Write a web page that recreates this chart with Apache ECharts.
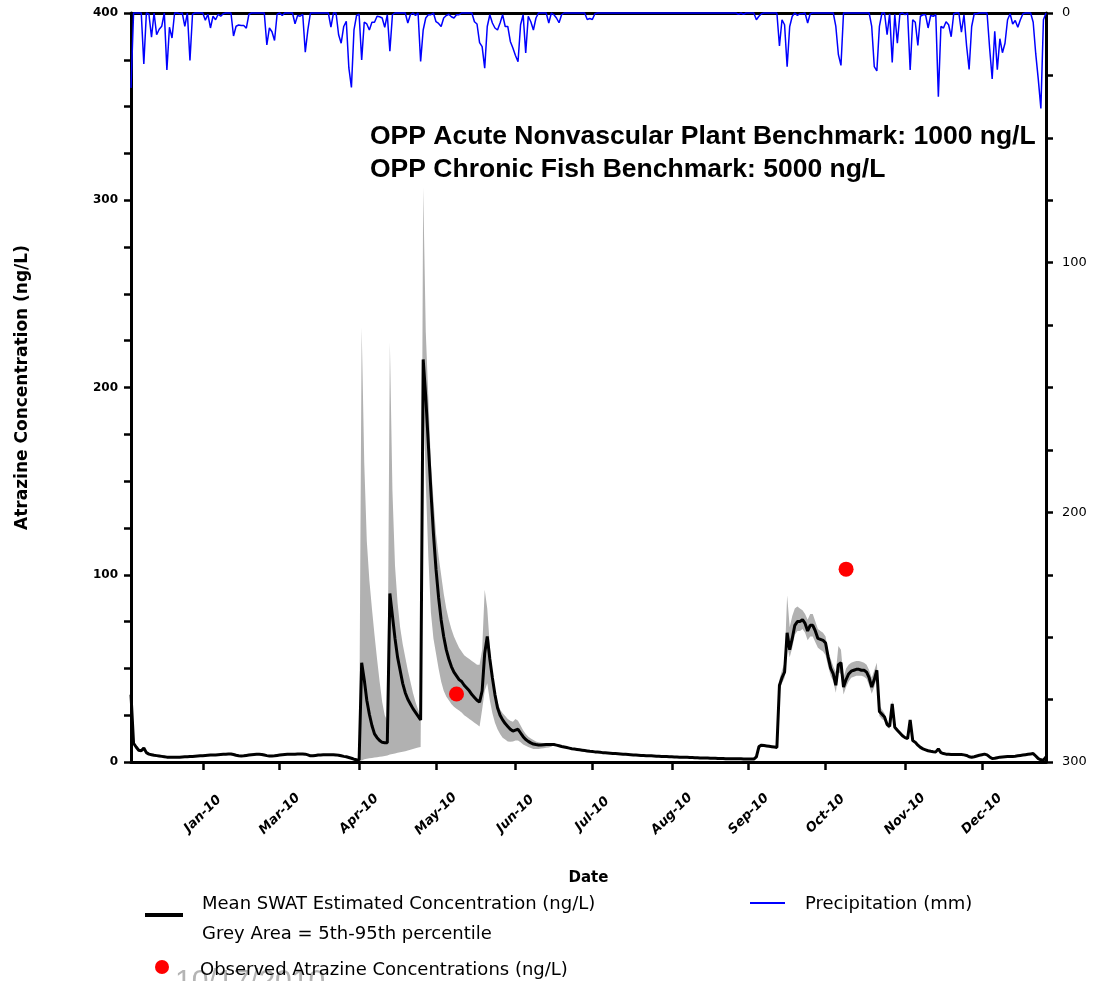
<!DOCTYPE html>
<html>
<head>
<meta charset="utf-8">
<title>Atrazine concentration and precipitation, 2010</title>
<script src="https://cdn.jsdelivr.net/npm/echarts@6/dist/echarts.min.js"></script>
<style>
  html, body { margin: 0; padding: 0; background: #fff; }
  #chart { width: 1100px; height: 981px; }
</style>
</head>
<body>
<div id="chart"></div>
<script>
// x values are days counted from the left edge of the plot
const tickDays = [28, 58, 89, 119, 150, 180, 211, 241, 271, 302, 332];
const tickLabels = ["Jan-10", "Mar-10", "Apr-10", "May-10", "Jun-10", "Jul-10",
  "Aug-10", "Sep-10", "Oct-10", "Nov-10", "Dec-10"];

// mean SWAT concentration (ng/L), one value per day
const meanConc = [
  36, 10, 8, 6.3, 6, 7.5, 5, 4.2, 3.9, 3.6,
  3.4, 3.2, 3, 2.8, 2.6, 2.5, 2.5, 2.5, 2.6, 2.6,
  2.7, 2.8, 2.8, 2.9, 3.0, 3.1, 3.2, 3.3, 3.4, 3.5,
  3.6, 3.7, 3.8, 3.8, 3.9, 4.0, 4.1, 4.2, 4.3, 4.3,
  4.0, 3.6, 3.3, 3.2, 3.3, 3.5, 3.7, 3.9, 4.0, 4.1,
  4.1, 4.0, 3.7, 3.4, 3.2, 3.2, 3.3, 3.5, 3.7, 3.9,
  4.0, 4.1, 4.1, 4.2, 4.2, 4.3, 4.3, 4.3, 4.2, 3.8,
  3.3, 3.3, 3.5, 3.7, 3.8, 3.9, 3.9, 3.9, 3.9, 3.9,
  3.8, 3.6, 3.3, 3.0, 2.8, 2.4, 2.0, 1.5, 1.2, 1.0,
  53, 44, 33, 25.5, 19.5, 15, 13, 11.5, 10.5, 10.3,
  10.3, 90, 78, 66, 56, 49, 42, 37, 33.5, 31,
  28.5, 26.5, 24.5, 22.5, 215, 195, 170, 145, 122, 103,
  88, 76, 67, 60, 55, 51, 48, 46, 44, 43,
  41, 39.5, 38, 36, 34.5, 33, 32, 38, 58, 67,
  55, 45, 36, 29, 25, 22.5, 20.5, 19, 17.5, 16.5,
  17, 17.5, 15.5, 13.5, 12, 11, 10.2, 9.6, 9.3, 9.1,
  9.1, 9.2, 9.3, 9.4, 9.4, 9.3, 9.0, 8.7, 8.3, 8.0,
  7.7, 7.4, 7.1, 6.9, 6.7, 6.5, 6.3, 6.1, 5.9, 5.7,
  5.6, 5.4, 5.3, 5.2, 5.0, 4.9, 4.8, 4.7, 4.6, 4.5,
  4.4, 4.3, 4.2, 4.1, 4.0, 3.9, 3.8, 3.7, 3.6, 3.5,
  3.5, 3.4, 3.3, 3.3, 3.2, 3.1, 3.1, 3.0, 3.0, 2.9,
  2.8, 2.8, 2.7, 2.7, 2.6, 2.6, 2.5, 2.5, 2.4, 2.4,
  2.3, 2.3, 2.2, 2.1, 2.1, 2.1, 2.0, 2.0, 2.0, 1.9,
  1.9, 1.9, 1.8, 1.8, 1.8, 1.7, 1.7, 1.7, 1.7, 1.6,
  1.6, 1.6, 1.6, 1.6, 2.8, 8.2, 9.0, 8.8, 8.6, 8.4,
  8.2, 8.0, 7.8, 41, 45, 48, 69, 60, 66, 73,
  75, 75, 76, 74, 70, 73, 73, 70, 66, 65.5,
  65, 63.5, 56, 50, 47, 41, 52, 53, 40, 44,
  47, 48.5, 49, 49.5, 49.5, 49, 49, 48, 45, 40,
  44, 49, 27, 25.5, 24, 20, 19, 31, 18.5, 17,
  15.5, 14, 13, 12.5, 22.5, 11.5, 10.5, 9, 7.8, 7,
  6.5, 6, 5.7, 5.5, 5.4, 7, 5, 4.5, 4.2, 4.1,
  4.0, 4.0, 4.0, 4.0, 4.0, 3.8, 3.5, 2.8, 2.5, 2.8,
  3.2, 3.6, 3.9, 4.2, 3.8, 2.7, 1.9, 2.0, 2.3, 2.6,
  2.7, 2.8, 2.9, 3.0, 3.0, 3.1, 3.3, 3.5, 3.7, 3.9,
  4.1, 4.3, 4.5, 3.2, 1.8, 1.2, 1.0, 2.7
];

// 5th-95th percentile band, spring window
const bandStart1 = 89;
const bandLow1 = [
  1.0,
  0.8, 1.5, 1.8, 2, 2.2, 2.4, 2.6, 2.8, 3, 3.2,
  3.5, 4, 4.3, 4.6, 4.9, 5.2, 5.5, 5.8, 6.2, 6.6,
  7, 7.4, 7.8, 8, 200, 150, 110, 80, 66, 58,
  50, 43, 38, 35, 33, 31, 29.5, 28.5, 27.5, 26.5,
  25, 24, 23, 22, 21, 20, 19, 28, 38, 42,
  33, 26, 21, 17.5, 15, 13, 12, 11, 10.8, 11,
  11.5, 11.5, 10.5, 9.3, 8.7, 8, 7.5, 7, 7, 7,
  7.2, 7.4, 7.6, 7.8, 8.1, 9.4
];
const bandHigh1 = [
  1.0,
  232, 160, 118, 97, 82, 68, 55, 43, 32, 25,
  22, 224, 145, 105, 85, 72, 63, 56, 49, 43,
  37, 32, 28, 25, 307, 230, 195, 160, 140, 122,
  110, 100, 90, 82, 76, 71, 67, 64, 61, 59,
  57, 56, 55, 54, 53, 52, 52, 60, 92, 82,
  62, 46, 38, 32, 28, 26, 24.5, 23, 22, 21.5,
  23, 22, 19.5, 17, 15, 13.5, 12.5, 11.7, 11, 10.5,
  10.3, 10.2, 10.1, 10.1, 10, 9.4
];

// 5th-95th percentile band, autumn window
const bandStart2 = 244;
const bandLow2 = [
  2.8, 7.8, 8.5, 8.3, 8.1, 7.9, 7.7, 7.5, 7.3, 38, 42, 45, 62, 56, 61, 68,
  70, 70, 71, 69, 65, 67, 67, 64, 61, 60,
  59, 57, 51, 46, 43, 37, 48, 47, 36, 40,
  43, 45, 45.5, 46, 46, 46, 45.5, 44.5, 41, 36.5,
  40, 45, 24.5, 23, 22, 18.5, 17.8, 29, 17.3, 16,
  15.5
];
const bandHigh2 = [
  2.8, 8.6, 9.5, 9.3, 9.1, 8.9, 8.7, 8.5, 8.3, 44, 49, 53, 89, 72, 78, 82,
  83, 82, 81, 79, 76, 79, 79, 75, 71, 70,
  69, 67, 59, 55, 51, 48, 62, 60, 45, 50,
  52, 53, 53.5, 54, 54, 53.5, 53, 52, 49, 45,
  49, 53, 30, 28, 26, 21.5, 20.5, 33, 19.5, 18,
  15.5
];

// observed atrazine samples
const observedDays = [127, 279];
const observedConc = [36.3, 103];

// daily precipitation (mm), plotted on the inverted right axis
const precip = [
  30, 0, 0, 0, 0, 20.4, 0, 0.5, 9.7, 0,
  8.7, 6.5, 5.3, 0, 22.8, 5.7, 10, 0, 0, 0.3,
  0, 5.4, 0, 19, 0.5, 0, 0, 0, 0, 2.9,
  0.5, 6, 1.3, 2.7, 0.5, 1.3, 0.3, 0, 0, 0,
  9.2, 5.3, 4.8, 5, 5, 6.1, 0.5, 0, 0, 0,
  0, 0, 0, 12.8, 6, 7.5, 11, 0.5, 0, 1,
  0, 0, 0, 0, 4.3, 1, 1.3, 0.5, 15.7, 6.8,
  0, 0, 0, 0, 0, 0, 0, 0, 5.7, 0,
  0, 8.7, 12.1, 5.4, 3.3, 22, 29.8, 6.8, 1, 0.5,
  18.8, 3.7, 4.4, 6.8, 3.7, 3.7, 1.3, 1.5, 2, 5.7,
  0.7, 15.3, 0.7, 0, 0, 0, 0, 0, 4, 0.7,
  0, 1, 0, 19.4, 6.8, 2, 0.7, 0.7, 0, 3.5,
  4.2, 5.4, 2, 1, 0.5, 1.5, 2, 0.7, 0.7, 0,
  0, 0, 0, 0, 3.5, 4.4, 11.9, 13.5, 22.1, 5.4,
  0.7, 4, 6, 6.8, 4, 0.7, 5.4, 5.4, 11.4, 14,
  17, 19.5, 4.7, 0.7, 16, 1.3, 3.5, 6.8, 2, 0,
  0, 0, 0, 4, 0, 0.7, 2, 3.9, 0.7, 0,
  0, 0, 0, 0, 0, 0, 0, 0, 2.6, 2.2,
  2.6, 0.3, 0, 0, 0, 0, 0, 0, 0, 0,
  0, 0, 0, 0, 0, 0, 0, 0, 0, 0,
  0, 0, 0, 0, 0, 0, 0, 0, 0, 0,
  0, 0, 0, 0, 0, 0, 0, 0, 0, 0,
  0, 0, 0, 0, 0, 0, 0, 0, 0, 0,
  0, 0, 0, 0, 0, 0, 0, 0.5, 0, 0.5,
  0, 0, 0, 0, 2.7, 1.3, 0.3, 0, 0, 0,
  0, 0, 0, 13.2, 2.7, 4.7, 21.5, 5.4, 1.3, 0,
  1, 0.3, 0.3, 0, 4, 0.3, 0, 0, 0, 0,
  0, 0, 0, 0, 0, 5.4, 16.7, 21, 0, 0,
  0, 0, 0, 0, 0, 0, 0, 0, 0, 5.4,
  21.5, 23.2, 5.4, 0, 0, 8.7, 0.3, 19.8, 0.5, 12.1,
  0.3, 0, 0.7, 0, 22.8, 2.7, 3.7, 13, 1.3, 0.7,
  0.7, 6, 1, 1.3, 0.7, 33.5, 5.4, 6, 3.5, 4.7,
  9.5, 0.3, 0, 0, 7.7, 0.7, 13, 22.6, 5.4, 0.3,
  0.3, 0, 0, 0, 0, 14, 26.4, 7.3, 22.7, 10.3,
  15.9, 12.1, 2.7, 0.3, 4.4, 3, 5.7, 2.7, 0.3, 0,
  0, 0, 3.7, 16.4, 26.7, 38.2, 2.7, 0
];

const daily = arr => arr.map((v, i) => [i, v]);

const grey = '#b1b1b1';
const labelFont = 'DejaVu Sans';
const legendFont = '18px "DejaVu Sans"';

// grey percentile band drawn as one polygon through the chart's own coordinates
function bandSeries(start, lo, hi) {
  return {
    type: 'custom', silent: true, z: 1,
    data: [[start, lo[0]]],
    renderItem: (params, api) => {
      const top = hi.map((v, i) => api.coord([start + i, v]));
      const bottom = lo.map((v, i) => api.coord([start + i, v])).reverse();
      return {
        type: 'polygon',
        shape: { points: top.concat(bottom) },
        style: { fill: grey }
      };
    }
  };
}

const chart = echarts.init(document.getElementById('chart'));

const option = {
  animation: false,
  grid: { left: 131, right: 54, top: 13, bottom: 219 },
  xAxis: [{
    type: 'value', min: 0, max: 357,
    name: 'Date', nameLocation: 'middle', nameGap: 109,
    nameTextStyle: { fontFamily: labelFont, fontWeight: 'bold', fontSize: 15, color: '#000' },
    axisLine: { show: true, onZero: false, lineStyle: { color: '#000', width: 3 } },
    axisTick: { show: true, customValues: tickDays, length: 8, lineStyle: { color: '#000', width: 2.5 } },
    axisLabel: {
      customValues: tickDays,
      formatter: v => tickLabels[tickDays.indexOf(v)] || '',
      rotate: 45, align: 'center', verticalAlign: 'middle', margin: 52,
      fontFamily: labelFont, fontWeight: 'bold', fontStyle: 'italic', fontSize: 13, color: '#000'
    },
    splitLine: { show: false }
  }, {
    type: 'value', min: 0, max: 357, position: 'top',
    axisLine: { show: true, onZero: false, lineStyle: { color: '#000', width: 3 } },
    axisTick: { show: false }, axisLabel: { show: false }, splitLine: { show: false }
  }],
  yAxis: [{
    type: 'value', min: 0, max: 400, interval: 100,
    name: 'Atrazine Concentration (ng/L)', nameLocation: 'middle', nameGap: 100,
    nameTextStyle: { fontFamily: labelFont, fontWeight: 'bold', fontSize: 17, color: '#000' },
    axisLine: { show: true, onZero: false, lineStyle: { color: '#000', width: 3 } },
    axisTick: { show: true, length: 7, lineStyle: { color: '#000', width: 2.5 } },
    minorTick: { show: true, splitNumber: 4, length: 7, lineStyle: { color: '#000', width: 2.5 } },
    axisLabel: { margin: 13, fontFamily: labelFont, fontWeight: 'bold', fontSize: 12, color: '#000' },
    splitLine: { show: false }
  }, {
    type: 'value', min: 0, max: 300, interval: 100, inverse: true, position: 'right',
    axisLine: { show: true, onZero: false, lineStyle: { color: '#000', width: 3 } },
    axisTick: { show: true, length: 7, lineStyle: { color: '#000', width: 2.5 } },
    minorTick: { show: true, splitNumber: 4, length: 7, lineStyle: { color: '#000', width: 2.5 } },
    axisLabel: { margin: 16, fontFamily: labelFont, fontSize: 13, color: '#000' },
    splitLine: { show: false }
  }],
  series: [
    bandSeries(bandStart1, bandLow1, bandHigh1),
    bandSeries(bandStart2, bandLow2, bandHigh2),
    {
      name: 'Mean SWAT Estimated Concentration (ng/L)', type: 'line',
      data: daily(meanConc), symbol: 'none',
      lineStyle: { color: '#000', width: 3 }, z: 3
    },
    {
      name: 'Observed Atrazine Concentrations (ng/L)', type: 'scatter',
      data: observedDays.map((d, i) => [d, observedConc[i]]),
      symbolSize: 15, itemStyle: { color: '#ff0000', opacity: 1 }, z: 4
    },
    {
      name: 'Precipitation (mm)', type: 'line', yAxisIndex: 1,
      data: daily(precip), symbol: 'none', clip: false,
      lineStyle: { color: '#0000ff', width: 1.5 }, z: 5
    }
  ],
  graphic: [
    { type: 'text', x: 370, y: 137, style: { text: 'OPP Acute Nonvascular Plant Benchmark: 1000 ng/L', fill: '#000', font: 'bold 26.5px "Liberation Sans"', verticalAlign: 'middle' } },
    { type: 'text', x: 370, y: 170, style: { text: 'OPP Chronic Fish Benchmark: 5000 ng/L', fill: '#000', font: 'bold 26.5px "Liberation Sans"', verticalAlign: 'middle' } },

    { type: 'line', shape: { x1: 145, y1: 915, x2: 183, y2: 915 }, style: { stroke: '#000', lineWidth: 4 } },
    { type: 'text', x: 202, y: 904, style: { text: 'Mean SWAT Estimated Concentration (ng/L)', fill: '#000', font: legendFont, verticalAlign: 'middle' } },
    { type: 'text', x: 202, y: 934, style: { text: 'Grey Area = 5th-95th percentile', fill: '#000', font: legendFont, verticalAlign: 'middle' } },
    { type: 'circle', shape: { cx: 162, cy: 967, r: 7 }, style: { fill: '#ff0000' } },
    { type: 'text', x: 200, y: 970, style: { text: 'Observed Atrazine Concentrations (ng/L)', fill: '#000', font: legendFont, verticalAlign: 'middle' } },
    { type: 'line', shape: { x1: 750, y1: 903, x2: 785, y2: 903 }, style: { stroke: '#0000ff', lineWidth: 2 } },
    { type: 'text', x: 805, y: 904, style: { text: 'Precipitation (mm)', fill: '#000', font: legendFont, verticalAlign: 'middle' } },

    { type: 'text', x: 175, y: 967, z: -1, style: { text: '10/17/2010', fill: '#b4b4b4', font: '30px "Liberation Sans"', verticalAlign: 'top' } }
  ]
};

chart.setOption(option);
</script>
</body>
</html>
